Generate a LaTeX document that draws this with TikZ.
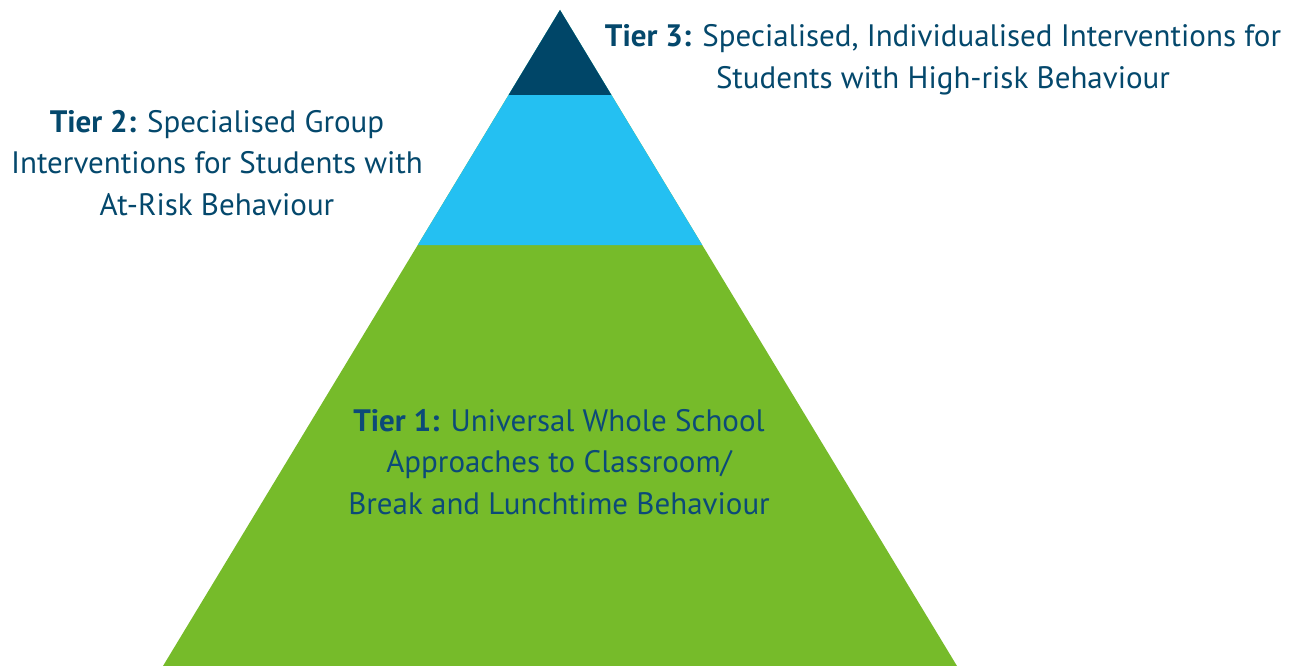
\documentclass[tikz,border=0pt]{standalone}
\usepackage{fontspec}
\setmainfont{PT Sans}
\definecolor{tierdark}{RGB}{0,70,104}
\definecolor{tierblue}{RGB}{36,192,242}
\definecolor{tiergreen}{RGB}{118,187,42}
\definecolor{txt}{RGB}{4,72,108}
\definecolor{txtone}{RGB}{12,74,120}
\tikzset{
  label/.style={align=center, text=txt, font=\fontsize{31}{41.5}\selectfont, inner sep=0pt},
}
\begin{document}
\begin{tikzpicture}[x=1pt,y=-1pt]
\useasboundingbox (0,0) rectangle (1299,666);
\coordinate (apex) at (560,10);
\coordinate (bl) at (163,666);
\coordinate (br) at (957,666);
\fill[tiergreen] (apex) -- (bl) -- (br) -- cycle;
\fill[tierblue] (apex) -- (417.8,245) -- (702.2,245) -- cycle;
\fill[tierdark] (apex) -- (508.6,95) -- (611.4,95) -- cycle;
\node[label] (t3) at (943,60) {\textbf{Tier 3:} Specialised, Individualised Interventions for\\Students with High-risk Behaviour};
\node[label] (t2) at (217,163) {\textbf{Tier 2:} Specialised Group\\Interventions for Students with\\At-Risk Behaviour};
\node[label, text=txtone] (t1) at (559,462) {\textbf{Tier 1:} Universal Whole School\\Approaches to Classroom/\\Break and Lunchtime Behaviour};
\end{tikzpicture}
\end{document}
